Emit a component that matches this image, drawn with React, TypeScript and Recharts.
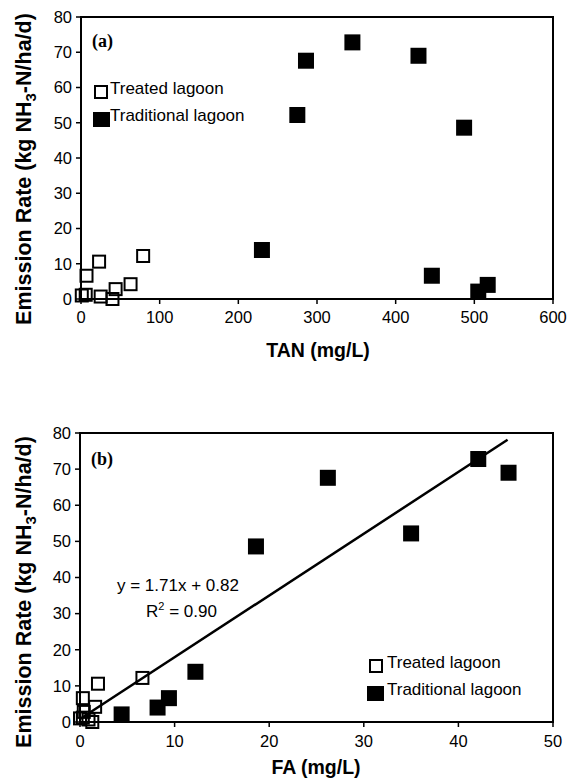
import React from 'react';
import { ScatterChart, Scatter, XAxis, YAxis, ReferenceArea, Legend } from 'recharts';

// ---------- data ----------
const erTreated = [1.0, 1.2, 6.6, 10.6, 0.7, 0.0, 2.8, 4.2, 12.2];
const tanTreated = [1, 6, 7, 23, 25, 40, 44, 63, 79];
const faTreated = [0.0, 0.3, 0.3, 1.9, 0.9, 1.3, 0.4, 1.6, 6.6];

const erTraditional = [13.9, 52.2, 67.6, 72.8, 69.0, 6.6, 48.6, 2.1, 4.0];
const tanTraditional = [230, 275, 286, 345, 429, 446, 487, 505, 517];
const faTraditional = [12.2, 35.0, 26.2, 42.1, 45.3, 9.4, 18.6, 4.4, 8.2];

const fitSlope = 1.71;
const fitIntercept = 0.82;
const fitRange = [0, 45.2];

const yTicks = [0, 10, 20, 30, 40, 50, 60, 70, 80];
const tanTicks = [0, 100, 200, 300, 400, 500, 600];
const faTicks = [0, 10, 20, 30, 40, 50];

const seriesNames = ['Treated lagoon', 'Traditional lagoon'];

// ---------- helpers ----------
const zip = (xs: number[], ys: number[]) => xs.map((x, i) => ({ x, y: ys[i] }));
const treatedA = zip(tanTreated, erTreated);
const traditionalA = zip(tanTraditional, erTraditional);
const treatedB = zip(faTreated, erTreated);
const traditionalB = zip(faTraditional, erTraditional);
const fitLine = fitRange.map((x) => ({ x, y: fitSlope * x + fitIntercept }));

const SANS = '"Liberation Sans", Arial, sans-serif';
const SERIF = '"Liberation Serif", "Times New Roman", serif';

const OpenSquare = (p: any) => (
  <rect x={p.cx - 6} y={p.cy - 6} width={12} height={12} fill="none" stroke="#000" strokeWidth={2} />
);
const FilledSquare = (p: any) => (
  <rect x={p.cx - 8} y={p.cy - 8} width={16} height={16} fill="#000" />
);
const NoShape = () => <g />;

const tickStyle = { fill: '#000', fontSize: 16.5, fontFamily: SANS };

const YTitle = ({ cy }: { cy: number }) => (
  <text
    x={23.5}
    y={cy}
    transform={`rotate(-90, 23.5, ${cy})`}
    textAnchor="middle"
    dy="0.36em"
    fontFamily={SANS}
    fontWeight="bold"
    fontSize={21.5}
    fill="#000"
  >
    Emission Rate (kg NH
    <tspan fontSize={15} dy={5}>3</tspan>
    <tspan dy={-5}>-N/ha/d)</tspan>
  </text>
);

const TextsA = () => (
  <g>
    <YTitle cy={169} />
    <text x={92} y={47} fontFamily={SERIF} fontWeight="bold" fontSize={18} fill="#000">(a)</text>
    <text x={318} y={357} textAnchor="middle" fontFamily={SANS} fontWeight="bold" fontSize={19.5} fill="#000">
      TAN (mg/L)
    </text>
  </g>
);

const TextsB = () => (
  <g>
    <YTitle cy={202} />
    <text x={91} y={75} fontFamily={SERIF} fontWeight="bold" fontSize={18} fill="#000">(b)</text>
    <text x={316} y={384} textAnchor="middle" fontFamily={SANS} fontWeight="bold" fontSize={19.5} fill="#000">
      FA (mg/L)
    </text>
    <text x={117} y={201} fontFamily={SANS} fontSize={17} fill="#000">y = 1.71x + 0.82</text>
    <text x={146} y={227} fontFamily={SANS} fontSize={17} fill="#000">
      R<tspan fontSize={11} dy={-7}>2</tspan>
      <tspan dy={7}> = 0.90</tspan>
    </text>
  </g>
);

const LegendBox = ({ openLeft, textLeft }: { openLeft: number; textLeft: number }) => (
  <div style={{ position: 'relative', width: 200, height: 50, fontFamily: SANS, fontSize: 17, color: '#000' }}>
    <svg width={14} height={14} style={{ position: 'absolute', left: openLeft, top: 5 }}>
      <rect x={1} y={1} width={12} height={12} fill="none" stroke="#000" strokeWidth={2} />
    </svg>
    <div style={{ position: 'absolute', left: textLeft, top: 0, lineHeight: '18px', whiteSpace: 'nowrap' }}>
      {seriesNames[0]}
    </div>
    <svg width={17} height={15} style={{ position: 'absolute', left: 0, top: 32 }}>
      <rect x={0} y={0} width={17} height={15} fill="#000" />
    </svg>
    <div style={{ position: 'absolute', left: textLeft, top: 27, lineHeight: '18px', whiteSpace: 'nowrap' }}>
      {seriesNames[1]}
    </div>
  </div>
);

export default function App() {
  return (
    <div style={{ position: 'absolute', left: 0, top: 0, width: 570, height: 778, background: '#fff' }}>
      <div style={{ position: 'absolute', left: 0, top: 0 }}>
        <ScatterChart width={570} height={380} margin={{ top: 17, right: 17, bottom: 0, left: 0 }}>
          <ReferenceArea x1={0} x2={600} y1={0} y2={80} fill="none" stroke="#000" strokeWidth={2} ifOverflow="visible" />
          <XAxis
            type="number"
            dataKey="x"
            domain={[0, 600]}
            ticks={tanTicks}
            height={81}
            tick={tickStyle}
            tickSize={5}
            tickMargin={7}
            axisLine={{ stroke: '#000', strokeWidth: 2 }}
            tickLine={{ stroke: '#000', strokeWidth: 1.5 }}
            label={<TextsA />}
          />
          <YAxis
            type="number"
            dataKey="y"
            domain={[0, 80]}
            ticks={yTicks}
            width={81}
            tick={tickStyle}
            tickSize={5}
            tickMargin={4}
            axisLine={{ stroke: '#000', strokeWidth: 2 }}
            tickLine={{ stroke: '#000', strokeWidth: 1.5 }}
          />
          <Legend
            layout="vertical"
            align="center"
            verticalAlign="middle"
            wrapperStyle={{ left: 93, top: 80, width: 200, height: 50 }}
            content={() => <LegendBox openLeft={1} textLeft={17} />}
          />
          <Scatter name={seriesNames[0]} data={treatedA} shape={OpenSquare} isAnimationActive={false} />
          <Scatter name={seriesNames[1]} data={traditionalA} shape={FilledSquare} isAnimationActive={false} />
        </ScatterChart>
      </div>
      <div style={{ position: 'absolute', left: 0, top: 390 }}>
        <ScatterChart width={570} height={388} margin={{ top: 43, right: 17, bottom: 0, left: 0 }}>
          <ReferenceArea x1={0} x2={50} y1={0} y2={80} fill="none" stroke="#000" strokeWidth={2} ifOverflow="visible" />
          <XAxis
            type="number"
            dataKey="x"
            domain={[0, 50]}
            ticks={faTicks}
            height={56}
            tick={tickStyle}
            tickSize={5}
            tickMargin={8}
            axisLine={{ stroke: '#000', strokeWidth: 2 }}
            tickLine={{ stroke: '#000', strokeWidth: 1.5 }}
            label={<TextsB />}
          />
          <YAxis
            type="number"
            dataKey="y"
            domain={[0, 80]}
            ticks={yTicks}
            width={80}
            tick={tickStyle}
            tickSize={5}
            tickMargin={4}
            axisLine={{ stroke: '#000', strokeWidth: 2 }}
            tickLine={{ stroke: '#000', strokeWidth: 1.5 }}
          />
          <Legend
            layout="vertical"
            align="center"
            verticalAlign="middle"
            wrapperStyle={{ left: 367, top: 264, width: 200, height: 50 }}
            content={() => <LegendBox openLeft={2} textLeft={20} />}
          />
          <Scatter
            name="fit"
            data={fitLine}
            line={{ stroke: '#000', strokeWidth: 2.5 }}
            shape={NoShape}
            legendType="none"
            isAnimationActive={false}
          />
          <Scatter name={seriesNames[0]} data={treatedB} shape={OpenSquare} isAnimationActive={false} />
          <Scatter name={seriesNames[1]} data={traditionalB} shape={FilledSquare} isAnimationActive={false} />
        </ScatterChart>
      </div>
    </div>
  );
}
